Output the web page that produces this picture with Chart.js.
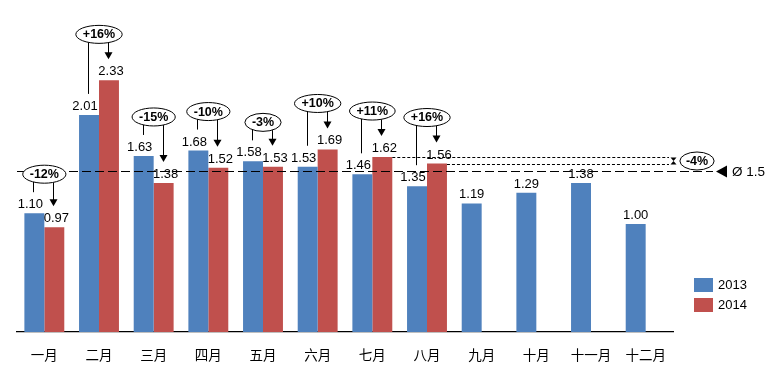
<!DOCTYPE html>
<html>
<head>
<meta charset="utf-8">
<script src="https://cdn.jsdelivr.net/npm/chart.js@4.4.1/dist/chart.umd.min.js"></script>
<style>
  body { margin: 0; background: #fff; }
  #wrap { width: 773px; height: 384px; }
</style>
</head>
<body>
<div id="wrap"><canvas id="chart" width="773" height="384"></canvas></div>
<script>
const months = ['一月', '二月', '三月', '四月', '五月', '六月', '七月', '八月', '九月', '十月', '十一月', '十二月'];
const values2013 = [1.10, 2.01, 1.63, 1.68, 1.58, 1.53, 1.46, 1.35, 1.19, 1.29, 1.38, 1.00];
const values2014 = [0.97, 2.33, 1.38, 1.52, 1.53, 1.69, 1.62, 1.56, null, null, null, null];
const changeLabels = ['-12%', '+16%', '-15%', '-10%', '-3%', '+10%', '+11%', '+16%'];
const avgValue = 1.49;
const avgLabel = 'Ø 1.5';
const lastChangeLabel = '-4%';

const blue = '#4F81BD';
const red = '#C0504D';
const labelFont = '13px "Liberation Sans", Arial, sans-serif';
const pctFont = 'bold 12.5px "Liberation Sans", Arial, sans-serif';

// ellipse with white fill
function drawEllipse(ctx, cx, cy, rx, ry, text) {
    ctx.save();
    ctx.beginPath();
    ctx.ellipse(cx, cy, rx, ry, 0, 0, Math.PI * 2);
    ctx.fillStyle = '#fff';
    ctx.fill();
    ctx.lineWidth = 1;
    ctx.strokeStyle = '#000';
    ctx.stroke();
    ctx.fillStyle = '#000';
    ctx.font = pctFont;
    ctx.textAlign = 'center';
    ctx.textBaseline = 'middle';
    ctx.fillText(text, cx, cy + 0.5);
    ctx.restore();
}

function ellipseEdge(cy, ry, rx, dx) {
    const t = Math.min(1, Math.abs(dx) / rx);
    return cy + ry * Math.sqrt(1 - t * t);
}

function vline(ctx, x, y1, y2) {
    ctx.beginPath();
    ctx.moveTo(x + 0.5, y1);
    ctx.lineTo(x + 0.5, y2);
    ctx.stroke();
}

function arrowHead(ctx, x, tipY) {
    ctx.beginPath();
    ctx.moveTo(x + 0.5, tipY);
    ctx.lineTo(x - 3.5, tipY - 7);
    ctx.lineTo(x + 4.5, tipY - 7);
    ctx.closePath();
    ctx.fill();
}

const valueLabels = {
    id: 'valueLabels',
    afterDatasetsDraw(chart) {
        const ctx = chart.ctx;
        const y = chart.scales.y;
        ctx.save();
        ctx.font = labelFont;
        ctx.fillStyle = '#000';
        ctx.textAlign = 'center';
        ctx.textBaseline = 'alphabetic';
        [values2013, values2014].forEach((vals, di) => {
            const meta = chart.getDatasetMeta(di);
            vals.forEach((v, i) => {
                if (v === null) return;
                const both = values2014[i] !== null;
                let shift = 0;
                if (both) shift = di === 0 ? -4 : 2;
                ctx.fillText(v.toFixed(2), meta.data[i].x + shift, y.getPixelForValue(v) - 5);
            });
        });
        ctx.restore();
    }
};

const annotations = {
    id: 'annotations',
    afterDraw(chart) {
        const ctx = chart.ctx;
        const x = chart.scales.x;
        const y = chart.scales.y;
        const area = chart.chartArea;
        const m13 = chart.getDatasetMeta(0);
        const m14 = chart.getDatasetMeta(1);
        ctx.save();
        ctx.strokeStyle = '#000';
        ctx.fillStyle = '#000';

        // average line
        const avgY = Math.round(y.getPixelForValue(avgValue)) + 0.5;
        ctx.lineWidth = 1.2;
        ctx.setLineDash([9, 4]);
        ctx.beginPath();
        ctx.moveTo(area.left, avgY);
        ctx.lineTo(area.right + 40, avgY);
        ctx.stroke();
        ctx.setLineDash([]);
        ctx.beginPath();
        ctx.moveTo(area.right + 43, avgY);
        ctx.lineTo(area.right + 54, avgY - 6);
        ctx.lineTo(area.right + 54, avgY + 6);
        ctx.closePath();
        ctx.fill();
        ctx.font = '13.5px "Liberation Sans", Arial, sans-serif';
        ctx.textAlign = 'left';
        ctx.textBaseline = 'middle';
        ctx.fillText(avgLabel, area.right + 59, avgY + 0.5);

        // dotted lines for last two 2014 months
        const last = values2014.filter(v => v !== null).length - 1;
        const yA = Math.round(y.getPixelForValue(values2014[last - 1])) + 0.5;
        const yB = Math.round(y.getPixelForValue(values2014[last])) + 0.5;
        const barA = m14.data[last - 1];
        const barB = m14.data[last];
        ctx.lineWidth = 1;
        ctx.setLineDash([3, 2]);
        ctx.beginPath();
        ctx.moveTo(barA.x + barA.width / 2, yA);
        ctx.lineTo(area.right - 4, yA);
        ctx.moveTo(barB.x + barB.width / 2, yB);
        ctx.lineTo(area.right - 4, yB);
        ctx.stroke();
        ctx.setLineDash([]);
        const hx = area.right + 0.5;
        const hm = (yA + yB) / 2;
        ctx.beginPath();
        ctx.moveTo(hx - 3, yA); ctx.lineTo(hx + 3, yA); ctx.lineTo(hx, hm);
        ctx.closePath();
        ctx.moveTo(hx - 3, yB); ctx.lineTo(hx + 3, yB); ctx.lineTo(hx, hm);
        ctx.closePath();
        ctx.fill();
        ctx.font = pctFont;
        const lw = ctx.measureText(lastChangeLabel).width;
        drawEllipse(ctx, area.right + 24, hm, lw / 2 + 6, 9, lastChangeLabel);

        // yearly change markers
        ctx.lineWidth = 1;
        changeLabels.forEach((txt, i) => {
            const v13 = values2013[i];
            const v14 = values2014[i];
            const up = v14 > v13;
            const cx = x.getPixelForValue(i);
            const cy = y.getPixelForValue(Math.max(v13, v14)) - (up ? 46 : 39);
            ctx.font = pctFont;
            const rx = ctx.measureText(txt).width / 2 + 7;
            const ry = 9;
            const x13 = Math.round(m13.data[i].x) - 1;
            const x14 = Math.round(m14.data[i].x) - 1;
            ctx.strokeStyle = '#000';
            ctx.fillStyle = '#000';
            vline(ctx, x13, ellipseEdge(cy, ry, rx, x13 - cx), y.getPixelForValue(v13) - 21);
            const tip = y.getPixelForValue(v14) - 21;
            vline(ctx, x14, ellipseEdge(cy, ry, rx, x14 - cx), tip - 5);
            arrowHead(ctx, x14, tip);
            drawEllipse(ctx, cx, cy, rx, ry, txt);
        });

        // legend
        const lx = area.right + 21;
        [[blue, '2013', 278], [red, '2014', 298]].forEach(([c, t, ty]) => {
            ctx.fillStyle = c;
            ctx.fillRect(lx, ty, 19, 14);
            ctx.fillStyle = '#000';
            ctx.font = '13px "Liberation Sans", Arial, sans-serif';
            ctx.textAlign = 'left';
            ctx.textBaseline = 'middle';
            ctx.fillText(t, lx + 24, ty + 7.5);
        });
        ctx.restore();
    }
};

new Chart(document.getElementById('chart'), {
    type: 'bar',
    data: {
        labels: months,
        datasets: [
            { label: '2013', data: values2013, backgroundColor: blue, borderWidth: 0 },
            { label: '2014', data: values2014, backgroundColor: red, borderWidth: 0 }
        ]
    },
    options: {
        responsive: false,
        animation: false,
        layout: { padding: { top: 8, left: 17, right: 100, bottom: 0 } },
        datasets: { bar: { categoryPercentage: 0.73, barPercentage: 1.0 } },
        plugins: {
            legend: { display: false },
            tooltip: { enabled: false }
        },
        scales: {
            x: {
                grid: { display: false, drawTicks: false },
                border: { display: true, color: '#000', width: 1.3 },
                ticks: {
                    color: '#000',
                    padding: 15,
                    font: { family: '"Noto Sans CJK SC", sans-serif', size: 13.5 }
                },
                afterFit(scale) { scale.height = 52; }
            },
            y: { display: false, min: 0, max: 3 }
        }
    },
    plugins: [valueLabels, annotations]
});
</script>
</body>
</html>
